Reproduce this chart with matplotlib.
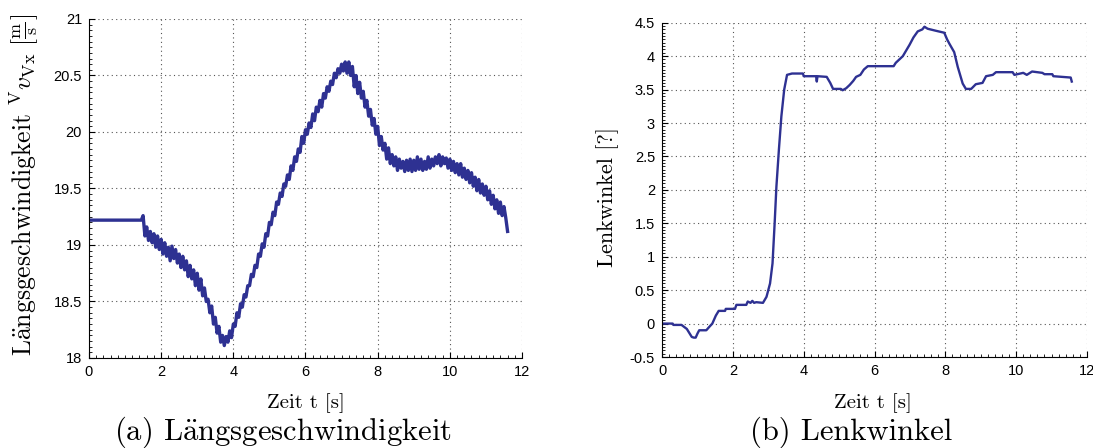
import numpy as np
import matplotlib
matplotlib.use("Agg")
import matplotlib.pyplot as plt
from matplotlib.ticker import AutoMinorLocator, MultipleLocator

plt.rcParams['mathtext.fontset'] = 'cm'
plt.rcParams['font.family'] = ['Liberation Sans', 'DejaVu Sans']

# (a) Laengsgeschwindigkeit: flat part, then sampled every 0.05 s
v_flat_t = [0.0]
v_flat = [19.22]
v_t0, v_t1 = 1.45, 11.60
v_vals = [
    19.22, 19.26, 19.08, 19.16, 19.04, 19.12, 19.02, 19.10, 18.98, 19.08,
    18.96, 19.05, 18.92, 19.02, 18.90, 18.98, 18.86, 18.99, 18.88, 18.96,
    18.84, 18.92, 18.80, 18.90, 18.78, 18.86, 18.72, 18.82, 18.70, 18.78,
    18.64, 18.75, 18.60, 18.70, 18.55, 18.62, 18.50, 18.52, 18.40, 18.46,
    18.30, 18.36, 18.22, 18.28, 18.14, 18.20, 18.11, 18.19, 18.14, 18.24,
    18.18, 18.30, 18.28, 18.40, 18.36, 18.48, 18.45, 18.56, 18.54, 18.64,
    18.64, 18.74, 18.72, 18.82, 18.80, 18.92, 18.90, 19.01, 18.98, 19.10,
    19.08, 19.20, 19.18, 19.29, 19.26, 19.38, 19.36, 19.46, 19.43, 19.54,
    19.52, 19.62, 19.58, 19.70, 19.66, 19.78, 19.74, 19.85, 19.82, 19.96,
    19.90, 20.02, 19.98, 20.08, 20.04, 20.16, 20.10, 20.22, 20.18, 20.28,
    20.22, 20.34, 20.30, 20.40, 20.36, 20.45, 20.42, 20.52, 20.48, 20.56,
    20.52, 20.60, 20.54, 20.62, 20.52, 20.62, 20.50, 20.58, 20.40, 20.50,
    20.34, 20.44, 20.30, 20.36, 20.22, 20.28, 20.14, 20.20, 20.06, 20.12,
    19.98, 20.05, 19.88, 19.96, 19.84, 19.90, 19.76, 19.86, 19.72, 19.80,
    19.70, 19.78, 19.66, 19.76, 19.68, 19.74, 19.65, 19.75, 19.66, 19.76,
    19.65, 19.75, 19.66, 19.78, 19.67, 19.76, 19.66, 19.74, 19.67, 19.78,
    19.68, 19.76, 19.70, 19.78, 19.72, 19.80, 19.70, 19.78, 19.72, 19.77,
    19.68, 19.76, 19.66, 19.74, 19.64, 19.72, 19.62, 19.72, 19.60, 19.68,
    19.58, 19.66, 19.55, 19.64, 19.52, 19.60, 19.48, 19.58, 19.46, 19.54,
    19.44, 19.52, 19.40, 19.48, 19.36, 19.44, 19.32, 19.40, 19.28, 19.38,
    19.26, 19.34, 19.24, 19.12,
]

# (b) Lenkwinkel
w_t = [0.0, 0.3, 0.32, 0.55, 0.7, 0.84, 0.9, 0.95, 1.0, 1.05, 1.25, 1.35, 1.42,
       1.52, 1.6, 1.78, 1.8, 2.06, 2.1, 2.38, 2.42, 2.5, 2.55, 2.6, 2.66, 2.85,
       2.95, 3.05, 3.12, 3.18, 3.23, 3.3, 3.37, 3.45, 3.53, 3.67, 3.98, 4.0,
       4.35, 4.37, 4.39, 4.65, 4.75, 4.83, 5.05, 5.1, 5.2, 5.3, 5.4, 5.48, 5.6,
       5.7, 5.81, 6.54, 6.6, 6.7, 6.8, 6.99, 7.1, 7.22, 7.35, 7.41, 7.5, 7.73,
       7.97, 8.05, 8.11, 8.25, 8.35, 8.49, 8.58, 8.73, 8.86, 9.05, 9.15, 9.34,
       9.43, 9.9, 9.95, 10.2, 10.3, 10.45, 10.74, 10.8, 11.02, 11.05, 11.54, 11.57]
w_vals = [0.0, 0.0, -0.02, -0.02, -0.08, -0.2, -0.21, -0.21, -0.15, -0.1, -0.1, -0.04, 0.0,
          0.12, 0.19, 0.19, 0.22, 0.22, 0.28, 0.28, 0.33, 0.31, 0.34, 0.31, 0.32, 0.31,
          0.4, 0.6, 0.9, 1.5, 2.05, 2.6, 3.1, 3.5, 3.72, 3.74, 3.74, 3.70,
          3.70, 3.62, 3.70, 3.69, 3.6, 3.51, 3.51, 3.49, 3.52, 3.57, 3.63, 3.69, 3.72,
          3.8, 3.85, 3.85, 3.9, 3.95, 4.0, 4.17, 4.28, 4.37, 4.40, 4.44, 4.41, 4.38,
          4.35, 4.25, 4.19, 4.06, 3.84, 3.59, 3.51, 3.51, 3.58, 3.60, 3.70, 3.72,
          3.76, 3.76, 3.72, 3.75, 3.72, 3.77, 3.75, 3.73, 3.73, 3.70, 3.68, 3.62]

line_col = '#2E3192'
serif = ['cmr10', 'DejaVu Serif']
laengs = r'$\mathrm{L\ddot{a}ngsgeschwindigkeit}$'

v_t = np.concatenate([v_flat_t, np.linspace(v_t0, v_t1, len(v_vals))])
v_y = np.concatenate([v_flat, v_vals])

fig = plt.figure(figsize=(10.93, 4.48), dpi=100)
ax1 = fig.add_axes([0.0814, 0.2009, 0.3962, 0.7567])
ax2 = fig.add_axes([0.6057, 0.2031, 0.3888, 0.7462])


def style(ax):
    ax.grid(True, which='major', linestyle=(0, (1, 3)), color='#555555', linewidth=0.8)
    ax.spines['top'].set_visible(False)
    ax.spines['right'].set_visible(False)
    ax.tick_params(which='both', direction='in', labelsize=10.5, pad=5)
    ax.tick_params(which='major', length=4)
    ax.tick_params(which='minor', length=2)
    ax.xaxis.set_major_locator(MultipleLocator(2))
    ax.xaxis.set_minor_locator(AutoMinorLocator(10))
    ax.yaxis.set_minor_locator(AutoMinorLocator(10))
    ax.yaxis.set_major_locator(MultipleLocator(0.5))
    ax.yaxis.set_major_formatter(plt.FuncFormatter(lambda v, p: '%g' % v))
    ax.set_xlim(0, 12)


ax1.plot(v_t, v_y, color=line_col, linewidth=2.4)
style(ax1)
ax1.set_ylim(18, 21)
ax1.set_xlabel('Zeit t [s]', family=serif, fontsize=15, va='center')
ax1.xaxis.set_label_coords(0.501, -0.133)
ax1.set_ylabel(laengs[:-1] + r'\ {}^{\mathrm{V}}v_{\mathrm{Vx}}\ [\frac{\mathrm{m}}{\mathrm{s}}]$',
               family=serif, fontsize=18.5, va='center')
ax1.yaxis.set_label_coords(-0.150, 0.51)

ax2.plot(w_t, w_vals, color=line_col, linewidth=1.7)
style(ax2)
ax2.set_ylim(-0.5, 4.5)
ax2.set_xlabel('Zeit t [s]', family=serif, fontsize=15, va='center')
ax2.xaxis.set_label_coords(0.496, -0.138)
ax2.set_ylabel('Lenkwinkel [?]', family=serif, fontsize=16, va='center')
ax2.yaxis.set_label_coords(-0.129, 0.479)

fig.text(0.259, 0.036, '(a) ' + laengs, family=serif, fontsize=22,
         ha='center', va='center')
fig.text(0.779, 0.036, '(b) Lenkwinkel', family=serif, fontsize=22,
         ha='center', va='center')

fig.savefig('out.png', dpi=100)
